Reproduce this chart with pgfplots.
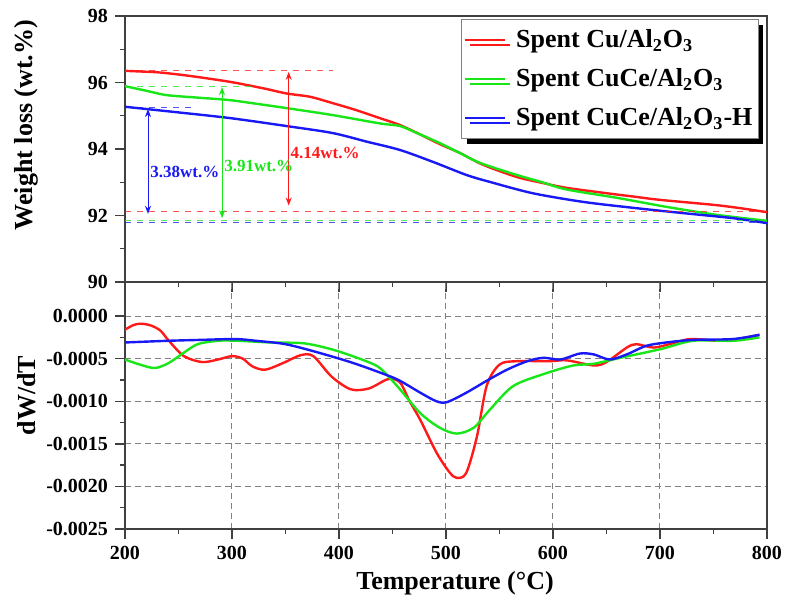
\documentclass[border=0pt]{standalone}
\usepackage{pgfplots}
\pgfplotsset{compat=1.18}
\usepackage{fontspec}
\setmainfont{Liberation Serif}
\usetikzlibrary{arrows.meta,shadows}
\definecolor{cred}{RGB}{255,25,25}
\definecolor{cgreen}{RGB}{25,230,25}
\definecolor{cblue}{RGB}{25,25,245}
\pgfplotsset{
  common/.style={
    width=321pt, scale only axis, xmin=200, xmax=800,
    xtick={200,300,400,500,600,700,800}, minor x tick num=1,
    tick align=outside, xtick pos=left, ytick pos=left,
    major tick length=5pt, minor tick length=2.5pt,
    axis line style={line width=0.9pt, black!75},
    every tick/.style={line width=0.7pt, black!75},
    tick label style={font=\bfseries\fontsize{10}{12}\selectfont},
    label style={font=\bfseries\fontsize{13}{15}\selectfont},
    /pgf/number format/assume math mode=true,
  },
  cur/.style={line width=1.2pt, smooth, tension=0.5, no marks},
}
\begin{document}
\begin{tikzpicture}
\useasboundingbox (-62.5pt,-39.5pt) rectangle (331pt,264.5pt);
% ---------------- top axis (TG) ----------------
\begin{axis}[common, name=top, at={(0,123.5pt)}, anchor=south west, height=133pt,
  ymin=90, ymax=98, ytick={90,92,94,96,98}, minor y tick num=1,
  xticklabels={},
  ylabel={Weight loss (wt.\%)},
  ylabel style={at={(axis description cs:-0.153,0.59)}, anchor=center},
  legend cell align=left,
  legend image code/.code={\draw[#1] (0pt,0pt) -- (20pt,0pt);},
  legend style={at={(1,1)}, anchor=north east, xshift=-4pt, yshift=-1.5pt,
    draw=black!50, line width=0.6pt, fill=white,
    font=\bfseries\fontsize{13}{15}\selectfont,
    drop shadow={shadow xshift=2.5pt, shadow yshift=-2.5pt, fill=black, opacity=1},
    inner xsep=1pt, inner ysep=3pt, row sep=5pt,
    /tikz/every odd column/.append style={column sep=3pt}},
]
\addplot[cur, cred] coordinates {(200,96.35) (215,96.33) (233,96.30) (260,96.20) (298,96.02) (330,95.82) (351,95.67) (373,95.57) (394,95.38) (415,95.18) (438,94.93) (457,94.72) (475,94.45) (494,94.15) (513,93.88) (535,93.52) (566,93.16) (590,92.98) (613,92.83) (650,92.67) (675,92.57) (700,92.47) (750,92.32) (775,92.22) (800,92.10)};
\addlegendentry{Spent Cu/Al\textsubscript{2}O\textsubscript{3}}
\addplot[cur, cgreen] coordinates {(200,95.89) (220,95.75) (239,95.62) (270,95.54) (298,95.47) (325,95.35) (351,95.23) (394,95.02) (438,94.77) (457,94.69) (475,94.45) (494,94.18) (513,93.88) (532,93.58) (566,93.22) (590,93.00) (613,92.78) (660,92.53) (706,92.26) (753,92.02) (800,91.84)};
\addlegendentry{Spent CuCe/Al\textsubscript{2}O\textsubscript{3}}
\addplot[cur, cblue] coordinates {(200,95.27) (250,95.10) (298,94.93) (351,94.69) (394,94.48) (426,94.22) (457,93.97) (488,93.61) (519,93.22) (541,93.01) (581,92.67) (628,92.41) (675,92.23) (722,92.07) (768,91.92) (800,91.77)};
\addlegendentry{Spent CuCe/Al\textsubscript{2}O\textsubscript{3}-H}
% dashed reference lines
\draw[cred, dashed, line width=0.6pt, opacity=0.75] (axis cs:200,96.35) -- (axis cs:394,96.35);
\draw[cgreen, dashed, line width=0.6pt, opacity=0.75] (axis cs:200,95.89) -- (axis cs:320,95.89);
\draw[cblue, dashed, line width=0.6pt, opacity=0.75] (axis cs:200,95.25) -- (axis cs:267,95.25);
\draw[cred, dashed, line width=0.6pt, opacity=0.75] (axis cs:200,92.11) -- (axis cs:800,92.11);
\draw[cgreen, dashed, line width=0.6pt, opacity=0.75] (axis cs:200,91.86) -- (axis cs:800,91.86);
\draw[cblue, dashed, line width=0.6pt, opacity=0.75] (axis cs:200,91.78) -- (axis cs:800,91.78);
% arrows
\draw[cblue, line width=0.5pt, {Stealth[length=4pt]}-{Stealth[length=4pt]}] (axis cs:221.5,95.20) -- (axis cs:221.5,92.05);
\draw[cgreen, line width=0.5pt, {Stealth[length=4pt]}-{Stealth[length=4pt]}] (axis cs:290.7,95.86) -- (axis cs:290.7,91.92);
\draw[cred, line width=0.5pt, {Stealth[length=4pt]}-{Stealth[length=4pt]}] (axis cs:353,96.32) -- (axis cs:353,92.30);
\node[cblue, font=\bfseries\fontsize{8.5}{10}\selectfont] at (axis cs:256,93.31) {3.38wt.\%};
\node[cgreen, font=\bfseries\fontsize{8.5}{10}\selectfont] at (axis cs:325,93.49) {3.91wt.\%};
\node[cred, font=\bfseries\fontsize{8.5}{10}\selectfont] at (axis cs:387,93.88) {4.14wt.\%};
\end{axis}
% ---------------- bottom axis (DTG) ----------------
\begin{axis}[common, name=bot, at={(0,0)}, anchor=south west, height=123.5pt,
  ymin=-0.0025, ymax=0.0004,
  ytick={-0.0025,-0.0020,-0.0015,-0.0010,-0.0005,0},
  yticklabels={-0.0025,-0.0020,-0.0015,-0.0010,-0.0005,0.0000},
  minor y tick num=1, scaled y ticks=false,
  grid=major, major grid style={densely dashed, black!50, line width=0.5pt},
  xlabel={Temperature (°C)},
  xlabel style={at={(axis description cs:0.514,-0.219)}, anchor=center},
  ylabel={dW/dT},
  ylabel style={at={(axis description cs:-0.153,0.54)}, anchor=center},
]
\addplot[cur, cred] coordinates {(200,-0.00016) (208,-0.000105) (215,-0.00009) (224,-0.00011) (233,-0.00017) (241,-0.00029) (255,-0.00047) (272,-0.00054) (287,-0.00051) (300,-0.00047) (310,-0.0005) (319,-0.00059) (331,-0.00063) (348,-0.00055) (364,-0.00046) (376,-0.00047) (393,-0.00071) (411,-0.00086) (428,-0.00085) (446,-0.00074) (457,-0.00078) (466,-0.001) (476,-0.00122) (491,-0.0016) (503,-0.00183) (510,-0.0019) (519,-0.00184) (529,-0.00141) (538,-0.00082) (550,-0.00057) (566,-0.00053) (597,-0.00053) (613,-0.00052) (638,-0.00058) (650,-0.00054) (669,-0.00037) (678,-0.00033) (694,-0.00037) (709,-0.00033) (728,-0.00027) (753,-0.00029) (768,-0.00028) (793,-0.00022)};
\addplot[cur, cgreen] coordinates {(200,-0.00051) (214,-0.00057) (228,-0.00061) (241,-0.00055) (255,-0.00043) (268,-0.00033) (287,-0.00029) (305,-0.00029) (336,-0.00031) (367,-0.00032) (393,-0.00039) (417,-0.00049) (436,-0.00059) (447,-0.00072) (457,-0.00086) (476,-0.00114) (494,-0.00131) (510,-0.00138) (526,-0.00131) (541,-0.0011) (563,-0.00082) (594,-0.00067) (619,-0.00058) (638,-0.00056) (663,-0.00049) (700,-0.00039) (731,-0.00029) (769,-0.00029) (793,-0.00025)};
\addplot[cur, cblue] coordinates {(200,-0.00031) (241,-0.00029) (270,-0.00028) (303,-0.00027) (322,-0.00029) (350,-0.00033) (381,-0.00043) (413,-0.00055) (444,-0.00069) (457,-0.00076) (476,-0.0009) (491,-0.001) (501,-0.00101) (519,-0.0009) (538,-0.00076) (557,-0.00063) (576,-0.00053) (591,-0.00049) (607,-0.00051) (625,-0.00044) (638,-0.00045) (653,-0.00051) (669,-0.00045) (687,-0.00035) (706,-0.00031) (731,-0.00028) (768,-0.00027) (793,-0.00022)};
\end{axis}
\end{tikzpicture}
\end{document}
